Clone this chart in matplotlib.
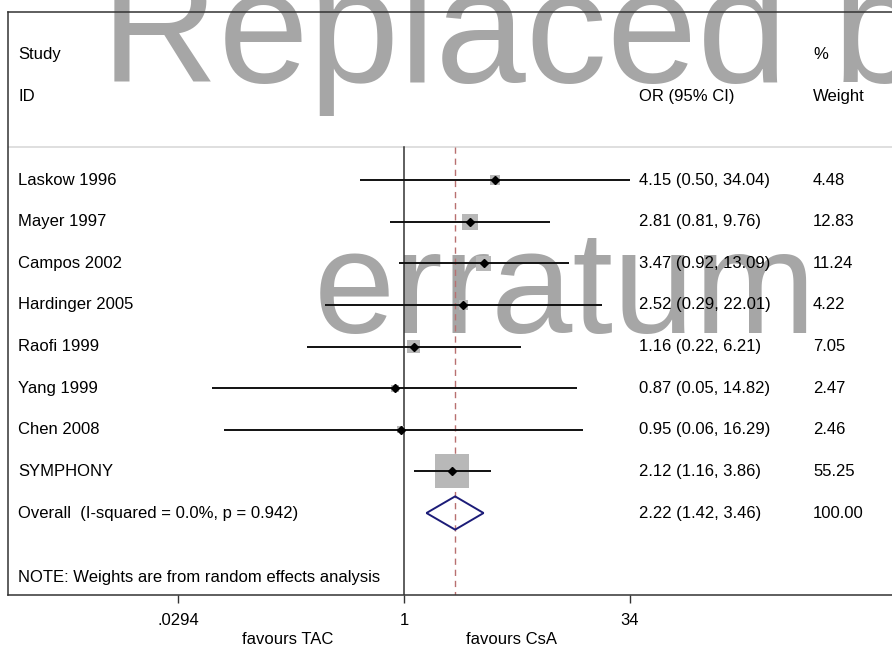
import numpy as np
import matplotlib
matplotlib.use("Agg")
import matplotlib.pyplot as plt
from matplotlib.transforms import blended_transform_factory

plt.rcParams['font.family'] = ['Liberation Sans', 'DejaVu Sans']

studies = ["Laskow 1996", "Mayer 1997", "Campos 2002", "Hardinger 2005",
           "Raofi 1999", "Yang 1999", "Chen 2008", "SYMPHONY"]
or_est = [4.15, 2.81, 3.47, 2.52, 1.16, 0.87, 0.95, 2.12]
ci_low = [0.50, 0.81, 0.92, 0.29, 0.22, 0.05, 0.06, 1.16]
ci_high = [34.04, 9.76, 13.09, 22.01, 6.21, 14.82, 16.29, 3.86]
weights = [4.48, 12.83, 11.24, 4.22, 7.05, 2.47, 2.46, 55.25]

overall_label = "Overall  (I-squared = 0.0%, p = 0.942)"
overall_or = 2.22
overall_low = 1.42
overall_high = 3.46
overall_weight = 100.00

tick_vals = [0.0294, 1, 34]
tick_labels = [".0294", "1", "34"]

W, H = 892, 648
fig = plt.figure(figsize=(W / 100, H / 100), dpi=100)
left_px, right_px, top_px, bot_px = 8, 900, 12, 595
ax = fig.add_axes([left_px / W, 1 - bot_px / H, (right_px - left_px) / W, (bot_px - top_px) / H])

px_per_ln = 226 / np.log(34)
x1_px = 404
ax.set_xscale('log')
ax.set_xlim(np.exp((left_px - x1_px) / px_per_ln), np.exp((right_px - x1_px) / px_per_ln))
ax.set_ylim(14.01, 0)

row0 = 4.04
rows = [row0 + i for i in range(len(studies))]
y_overall = row0 + len(studies)
y_study, y_id = 1.03, 2.04
y_sep = 3.245
y_note = 13.58

# watermark
ax.text(101 / W, 1 - 82 / H, "Replaced by", transform=fig.transFigure, fontsize=117,
        color='#a6a6a6', ha='left', va='baseline', zorder=0)
ax.text(565 / W, 1 - 333 / H, "erratum", transform=fig.transFigure, fontsize=105,
        color='#a6a6a6', ha='center', va='baseline', zorder=0)

# separator and reference lines
ax.axhline(y_sep, color='#d9d9d9', lw=1.2, zorder=1)
ax.plot([1, 1], [y_sep, 14.01], color='#333333', lw=1.1, zorder=2)
ax.plot([overall_or, overall_or], [y_sep, 14.01], color='#b87070', lw=1.0,
        dashes=(4.5, 3.5), zorder=2)

# weight squares
max_side_pt = 34 * 0.72
sides = [max_side_pt * np.sqrt(w / max(weights)) for w in weights]
ax.scatter(or_est, rows, s=[s ** 2 for s in sides], marker='s', color='#b8b8b8',
           linewidths=0, zorder=3)
ax.hlines(rows, ci_low, ci_high, color='#111111', lw=1.4, zorder=4)
ax.plot(or_est, rows, linestyle='none', marker='D', ms=4.5, color='black', zorder=5)

# overall diamond
dh = 0.4
ax.fill([overall_low, overall_or, overall_high, overall_or],
        [y_overall, y_overall - dh, y_overall, y_overall + dh],
        facecolor='none', edgecolor='#1c1c78', lw=1.4, zorder=5)

# text columns
tr = blended_transform_factory(fig.transFigure, ax.transData)
fs = 12
ax.text(18 / W, y_study, "Study", transform=tr, fontsize=fs, va='center')
ax.text(18 / W, y_id, "ID", transform=tr, fontsize=fs, va='center')
ax.text(639 / W, y_id, "OR (95% CI)", transform=tr, fontsize=fs, va='center')
ax.text(813 / W, y_study, "%", transform=tr, fontsize=fs, va='center')
ax.text(813 / W, y_id, "Weight", transform=tr, fontsize=fs, va='center')

for i, name in enumerate(studies):
    y = rows[i]
    ax.text(18 / W, y, name, transform=tr, fontsize=fs, va='center')
    ax.text(639 / W, y, f"{or_est[i]:.2f} ({ci_low[i]:.2f}, {ci_high[i]:.2f})",
            transform=tr, fontsize=fs, va='center')
    ax.text(813 / W, y, f"{weights[i]:.2f}", transform=tr, fontsize=fs, va='center')

ax.text(18 / W, y_overall, overall_label, transform=tr, fontsize=fs, va='center')
ax.text(639 / W, y_overall, f"{overall_or:.2f} ({overall_low:.2f}, {overall_high:.2f})",
        transform=tr, fontsize=fs, va='center')
ax.text(813 / W, y_overall, f"{overall_weight:.2f}", transform=tr, fontsize=fs, va='center')
ax.text(18 / W, y_note, "NOTE: Weights are from random effects analysis", transform=tr,
        fontsize=fs, va='center')

# axes styling
for s in ['left', 'top', 'bottom']:
    ax.spines[s].set_color('#333333')
    ax.spines[s].set_linewidth(1.1)
ax.spines['right'].set_visible(False)
ax.set_yticks([])
ax.set_xticks(tick_vals)
ax.set_xticklabels(tick_labels)
ax.xaxis.set_minor_locator(matplotlib.ticker.NullLocator())
ax.tick_params(axis='x', length=6, width=1.0, color='#333333', labelsize=12, pad=7)

fig.text(288 / W, 1 - 640 / H, "favours TAC", fontsize=12, ha='center', va='center')
fig.text(511 / W, 1 - 640 / H, "favours CsA", fontsize=12, ha='center', va='center')

fig.savefig("out.png", dpi=100)
